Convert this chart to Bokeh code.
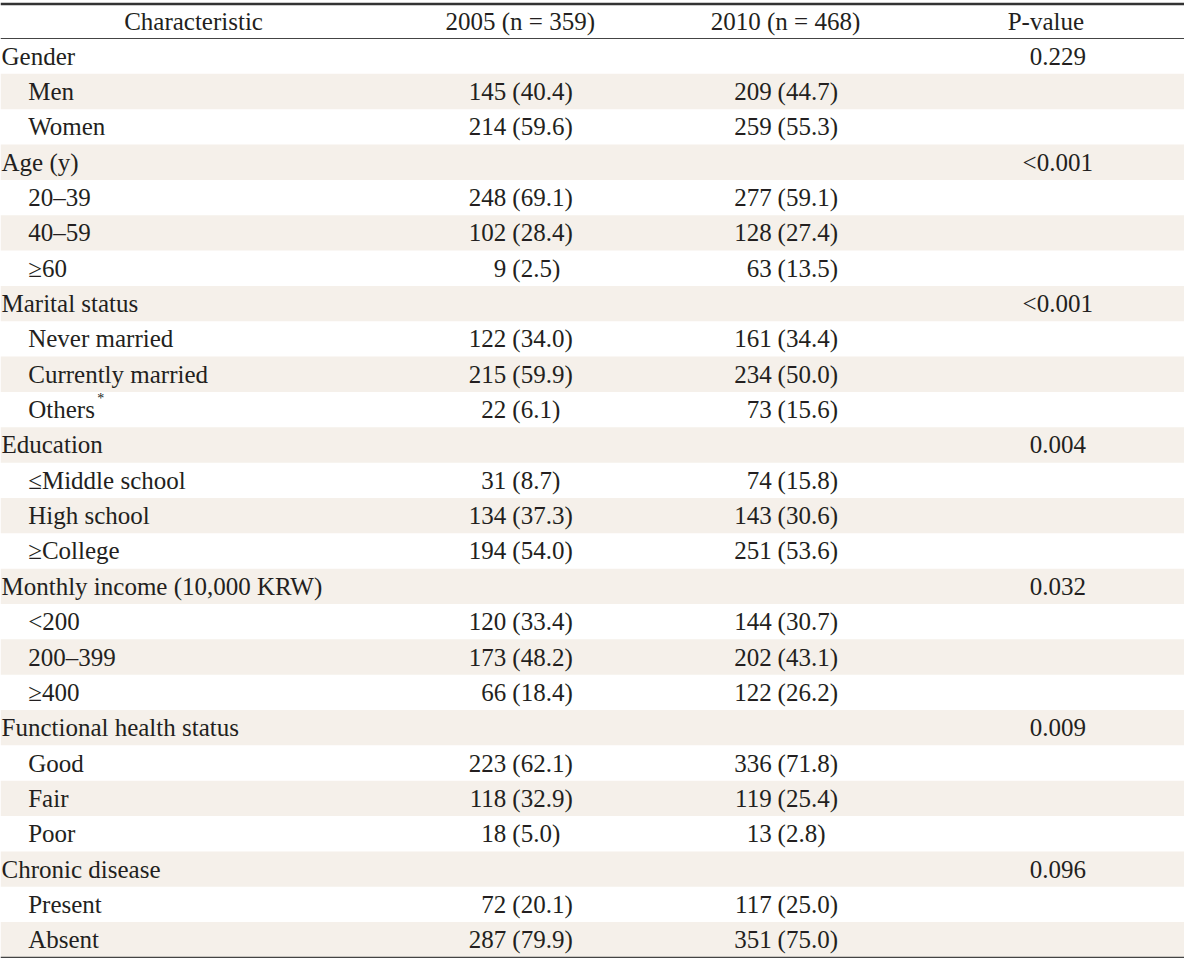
from bokeh.plotting import figure
from bokeh.models import Range1d, ColumnDataSource
from bokeh.core.properties import value
from bokeh.embed import file_html
from bokeh.resources import INLINE

# ---------------- data ----------------
headers = ["Characteristic", "2005 (n = 359)", "2010 (n = 468)", "P-value"]
groups = ["Gender", "Age (y)", "Marital status", "Education",
          "Monthly income (10,000 KRW)", "Functional health status", "Chronic disease"]
p_values = ["0.229", "<0.001", "<0.001", "0.004", "0.032", "0.009", "0.096"]
levels = [
    ["Men", "Women"],
    ["20\u201339", "40\u201359", "\u226560"],
    ["Never married", "Currently married", "Others"],
    ["\u2264Middle school", "High school", "\u2265College"],
    ["<200", "200\u2013399", "\u2265400"],
    ["Good", "Fair", "Poor"],
    ["Present", "Absent"],
]
footnote_marks = [
    ["", ""],
    ["", "", ""],
    ["", "", "*"],
    ["", "", ""],
    ["", "", ""],
    ["", "", ""],
    ["", ""],
]
n_2005 = [[145, 214], [248, 102, 9], [122, 215, 22], [31, 134, 194],
          [120, 173, 66], [223, 118, 18], [72, 287]]
pct_2005 = [[40.4, 59.6], [69.1, 28.4, 2.5], [34.0, 59.9, 6.1], [8.7, 37.3, 54.0],
            [33.4, 48.2, 18.4], [62.1, 32.9, 5.0], [20.1, 79.9]]
n_2010 = [[209, 259], [277, 128, 63], [161, 234, 73], [74, 143, 251],
          [144, 202, 122], [336, 119, 13], [117, 351]]
pct_2010 = [[44.7, 55.3], [59.1, 27.4, 13.5], [34.4, 50.0, 15.6], [15.8, 30.6, 53.6],
            [30.7, 43.1, 26.2], [71.8, 25.4, 2.8], [25.0, 75.0]]

# ---------------- layout (reference pixel space) ----------------
TXT = "#231f20"
SHADE = "#f5f0ea"
FONT = value("Liberation Serif")
FS = "25px"
LEFT, RIGHT = 2, 1198
TOP_LINE = 9.5
HEAD_BOTTOM = 44.3
ROW_H = 35.6
HEAD_Y = 27
COL_HEAD_X = [197, 527, 795, 1058]
GROUP_X = 3
LEVEL_X = 30
PAREN_X = [519, 787]
GAP = 6
P_X = 1070

# build rows
rows = []
for gi, g in enumerate(groups):
    rows.append(dict(label=g, x=GROUP_X, p=p_values[gi], mark=""))
    for li, lv in enumerate(levels[gi]):
        rows.append(dict(label=lv, x=LEVEL_X, p="", mark=footnote_marks[gi][li],
                         n5=n_2005[gi][li], q5=pct_2005[gi][li],
                         n10=n_2010[gi][li], q10=pct_2010[gi][li]))

def row_top(i):
    return HEAD_BOTTOM + ROW_H * i

def row_mid(i):
    return row_top(i) + ROW_H / 2

p = figure(width=1184, height=959, x_range=Range1d(LEFT, RIGHT), y_range=Range1d(972, 6),
           output_backend="svg", toolbar_location=None, min_border=0,
           x_axis_type=None, y_axis_type=None)
p.grid.visible = False
p.outline_line_color = None
p.background_fill_color = "white"
p.border_fill_color = "white"

# shaded rows
sh = [i for i in range(len(rows)) if i % 2 == 1]
p.quad(left=[LEFT] * len(sh), right=[RIGHT] * len(sh),
       top=[row_top(i) for i in sh], bottom=[row_top(i) + ROW_H for i in sh],
       fill_color=SHADE, line_color=None)

# rules
bottom_y = row_top(len(rows))
p.segment(x0=[LEFT], x1=[RIGHT], y0=[TOP_LINE], y1=[TOP_LINE], line_color="#333333", line_width=2.5)
p.segment(x0=[LEFT, LEFT], x1=[RIGHT, RIGHT], y0=[HEAD_BOTTOM, bottom_y], y1=[HEAD_BOTTOM, bottom_y],
          line_color="#444444", line_width=1.2)

def txt(xs, ys, texts, align, size=FS):
    src = ColumnDataSource(dict(x=xs, y=ys, t=texts))
    p.text(x="x", y="y", text="t", source=src, text_align=align, text_baseline="middle",
           text_font=FONT, text_font_size=size, text_color=TXT)

# header
txt(COL_HEAD_X, [HEAD_Y] * 4, headers, "center")

# labels
txt([r["x"] for r in rows], [row_mid(i) for i in range(len(rows))], [r["label"] for r in rows], "left")

# footnote marks (superscript)
mk = [(i, r) for i, r in enumerate(rows) if r["mark"]]
if mk:
    xs = [r["x"] + 0.0 for i, r in mk]
    # approximate text width of label in Times metrics
    xs = [r["x"] + len(r["label"]) * 11.3 + 2 for i, r in mk]
    txt(xs, [row_mid(i) - 11 for i, r in mk], [r["mark"] for i, r in mk], "left", "14px")

# values
lv_rows = [(i, r) for i, r in enumerate(rows) if "n5" in r]
ys = [row_mid(i) for i, r in lv_rows]
txt([PAREN_X[0] - GAP] * len(ys), ys, [str(r["n5"]) for i, r in lv_rows], "right")
txt([PAREN_X[0]] * len(ys), ys, ["(%.1f)" % r["q5"] for i, r in lv_rows], "left")
txt([PAREN_X[1] - GAP] * len(ys), ys, [str(r["n10"]) for i, r in lv_rows], "right")
txt([PAREN_X[1]] * len(ys), ys, ["(%.1f)" % r["q10"] for i, r in lv_rows], "left")

# p-values
pv_rows = [(i, r) for i, r in enumerate(rows) if r["p"]]
txt([P_X] * len(pv_rows), [row_mid(i) for i, r in pv_rows], [r["p"] for i, r in pv_rows], "center")

open("out.html", "w").write(file_html(p, INLINE))
